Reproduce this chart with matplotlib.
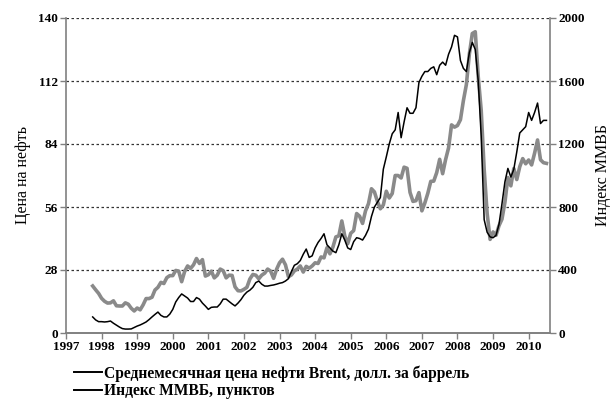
import numpy as np
import matplotlib
matplotlib.use('Agg')
import matplotlib.pyplot as plt
from matplotlib.lines import Line2D

plt.rcParams['font.family'] = ['Liberation Serif', 'DejaVu Serif']

# monthly data, Oct 1997 .. Jul 2010
start_year = 1997 + 9 / 12

brent = [
    20.9, 19.2, 17.6,
    15.4, 14.1, 13.3, 13.4, 14.3, 12.1, 12.0, 12.0, 13.4, 12.8, 11.0, 9.8,
    11.1, 10.3, 12.5, 15.3, 15.3, 15.9, 19.1, 20.3, 22.5, 22.0, 24.6, 25.5,
    25.5, 27.8, 27.5, 22.8, 27.3, 29.8, 28.7, 30.3, 33.1, 30.9, 32.6, 25.3,
    25.9, 27.5, 24.5, 25.7, 28.4, 27.7, 24.5, 25.7, 25.6, 20.5, 18.8, 18.7,
    19.4, 20.3, 24.0, 26.0, 25.7, 24.1, 25.7, 26.6, 28.4, 27.5, 24.3, 28.3,
    31.2, 32.8, 30.3, 25.0, 25.8, 27.6, 28.4, 29.8, 27.1, 29.6, 28.8, 29.8,
    31.2, 30.9, 33.8, 33.4, 37.9, 35.2, 38.2, 42.7, 43.2, 49.8, 43.1, 39.7,
    44.3, 45.5, 53.1, 51.9, 48.7, 54.3, 57.5, 64.1, 62.7, 58.5, 55.2, 56.9,
    63.0, 60.0, 62.0, 70.0, 70.0, 68.9, 73.7, 73.2, 62.5, 58.5, 58.8, 62.4,
    54.3, 57.8, 62.1, 67.4, 67.5, 71.3, 77.2, 70.8, 77.1, 82.3, 92.5, 91.5,
    92.2, 94.8, 103.3, 110.4, 123.9, 133.1, 133.9, 113.9, 99.1, 72.8, 53.2, 41.6,
    44.9, 43.4, 47.7, 50.6, 58.1, 69.1, 65.4, 73.1, 68.2, 73.9, 77.5, 75.2,
    76.9, 74.7, 79.9, 85.8, 77.0, 75.7, 75.4,
]

micex = [
    102, 83, 72,
    72, 70, 72, 76, 62, 50, 38, 28, 25, 25, 26, 35,
    44, 51, 60, 70, 85, 102, 118, 133, 112, 102, 102, 120,
    150, 197, 225, 248, 235, 222, 200, 200, 225, 215, 190, 171,
    150, 163, 165, 165, 185, 215, 215, 200, 185, 172, 190, 212,
    240, 260, 272, 290, 320, 330, 310, 298, 298, 302, 305, 310,
    316, 320, 330, 345, 390, 430, 440, 460, 500, 533, 480, 490,
    540, 575, 600, 630, 560, 540, 520, 510, 560, 630, 590, 540,
    530, 580, 605, 600, 590, 620, 660, 740, 800, 830, 860, 1040,
    1118, 1200, 1265, 1290, 1400, 1240, 1340, 1430, 1395, 1395, 1430, 1590,
    1630, 1660, 1660, 1680, 1690, 1640, 1700, 1720, 1700, 1770, 1816, 1890,
    1880, 1730, 1680, 1660, 1780, 1845, 1800, 1600, 1250, 720, 640, 610,
    605, 620, 690, 820, 960, 1045, 990, 1040, 1150, 1270, 1290, 1310,
    1400, 1350, 1400, 1460, 1330, 1350, 1350,
]

years = list(range(1997, 2011))
left_ticks = [0, 28, 56, 84, 112, 140]
right_ticks = [0, 400, 800, 1200, 1600, 2000]

t = start_year + np.arange(len(brent)) / 12

fig = plt.figure(figsize=(6.11, 3.99), dpi=100)
ax = fig.add_axes([66 / 611, 1 - 333 / 399, (550 - 66) / 611, (333 - 18) / 399])
ax2 = ax.twinx()

ax.plot(t, brent, color='#8a8a8a', lw=2.6, zorder=2)
ax2.plot(t[:len(micex)], micex, color='black', lw=1.1, zorder=3)

ax.set_xlim(1997, 2010.6)
ax.set_ylim(0, 140)
ax2.set_ylim(0, 2000)
ax.set_xticks(years)
ax.set_xticklabels([str(y) for y in years])
ax.set_yticks(left_ticks)
ax2.set_yticks(right_ticks)

for y in left_ticks[1:]:
    ax.axhline(y, color='#333333', lw=0.9, ls=(0, (2, 2)), zorder=1)

for a in (ax, ax2):
    a.spines['top'].set_visible(False)
    for s in ('left', 'right', 'bottom'):
        a.spines[s].set_color('#808080')
        a.spines[s].set_linewidth(1.2)
    a.tick_params(length=4, width=1, color='#808080', labelsize=9.5, pad=2)
    for lab in a.get_xticklabels() + a.get_yticklabels():
        lab.set_fontweight('bold')
ax2.spines['left'].set_visible(False)
ax.spines['right'].set_visible(False)

ax.set_ylabel('Цена на нефть', fontsize=11.5, labelpad=5)
ax2.set_ylabel('Индекс ММВБ', fontsize=11.5, labelpad=7)

handles = [Line2D([], [], color='black', lw=1.4), Line2D([], [], color='black', lw=1.4)]
labels = ['Среднемесячная цена нефти Brent, долл. за баррель', 'Индекс ММВБ, пунктов']
fig.legend(handles, labels, loc='upper left', bbox_to_anchor=(74 / 611, 1 - 365 / 399),
           frameon=False, handlelength=1.8, handletextpad=0.1,
           labelspacing=0.1, borderaxespad=0, borderpad=0,
           prop={'weight': 'bold', 'size': 11.2})

fig.savefig('out.png', dpi=100)
